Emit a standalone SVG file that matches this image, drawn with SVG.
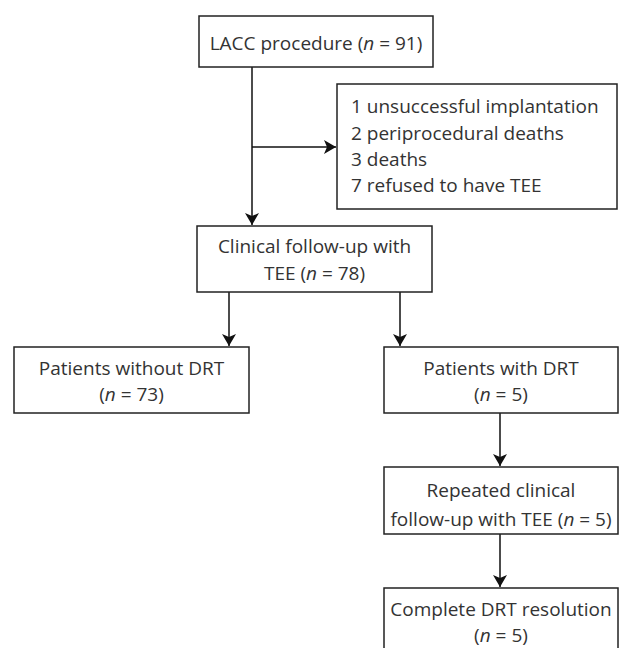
<svg xmlns="http://www.w3.org/2000/svg" width="619" height="648" viewBox="0 0 619 648">
<defs>
<style>
.box{fill:#fff;stroke:#222;stroke-width:1.5}
.t{font-family:"Open Sans","Noto Sans","Liberation Sans",sans-serif;font-size:19px;fill:#333}
.c{text-anchor:middle}
.i{font-style:italic}
.ln{fill:none;stroke:#111;stroke-width:1.5}
</style>
<marker id="ah" viewBox="0 0 12 14" refX="12" refY="7" markerWidth="12" markerHeight="14" markerUnits="userSpaceOnUse" orient="auto">
<path d="M0,0 L12,7 L0,14 L3,7 Z" fill="#111"/>
</marker>
</defs>
<rect width="619" height="648" fill="#fff"/>
<g id="connectors">
<line class="ln" x1="252" y1="67" x2="252" y2="225" marker-end="url(#ah)"/>
<line class="ln" x1="252" y1="147" x2="336" y2="147" marker-end="url(#ah)"/>
<line class="ln" x1="229" y1="292" x2="229" y2="346" marker-end="url(#ah)"/>
<line class="ln" x1="400" y1="292" x2="400" y2="346" marker-end="url(#ah)"/>
<line class="ln" x1="500" y1="413" x2="500" y2="466" marker-end="url(#ah)"/>
<line class="ln" x1="500" y1="534" x2="500" y2="587" marker-end="url(#ah)"/>
</g>
<g id="n1">
<rect class="box" x="199" y="16" width="234" height="51"/>
<text class="t c" x="316" y="50">LACC procedure (<tspan class="i">n</tspan> = 91)</text>
</g>
<g id="n_excluded">
<rect class="box" x="337" y="84" width="280" height="125"/>
<text class="t" x="351" y="113">1 unsuccessful implantation</text>
<text class="t" x="351" y="140">2 periprocedural deaths</text>
<text class="t" x="351" y="166">3 deaths</text>
<text class="t" x="351" y="192">7 refused to have TEE</text>
</g>
<g id="n2">
<rect class="box" x="197" y="226" width="235" height="66"/>
<text class="t c" x="314.5" y="253">Clinical follow-up with</text>
<text class="t c" x="314.5" y="280">TEE (<tspan class="i">n</tspan> = 78)</text>
</g>
<g id="n3">
<rect class="box" x="14" y="347" width="235" height="66"/>
<text class="t c" x="131.5" y="375">Patients without DRT</text>
<text class="t c" x="131.5" y="401">(<tspan class="i">n</tspan> = 73)</text>
</g>
<g id="n4">
<rect class="box" x="384" y="347" width="234" height="66"/>
<text class="t c" x="501" y="375">Patients with DRT</text>
<text class="t c" x="501" y="401">(<tspan class="i">n</tspan> = 5)</text>
</g>
<g id="n5">
<rect class="box" x="384" y="467" width="234" height="67"/>
<text class="t c" x="501" y="497">Repeated clinical</text>
<text class="t c" x="501" y="526">follow-up with TEE (<tspan class="i">n</tspan> = 5)</text>
</g>
<g id="n6">
<rect class="box" x="384" y="588" width="234" height="70"/>
<text class="t c" x="501" y="616">Complete DRT resolution</text>
<text class="t c" x="501" y="642">(<tspan class="i">n</tspan> = 5)</text>
</g>
</svg>
